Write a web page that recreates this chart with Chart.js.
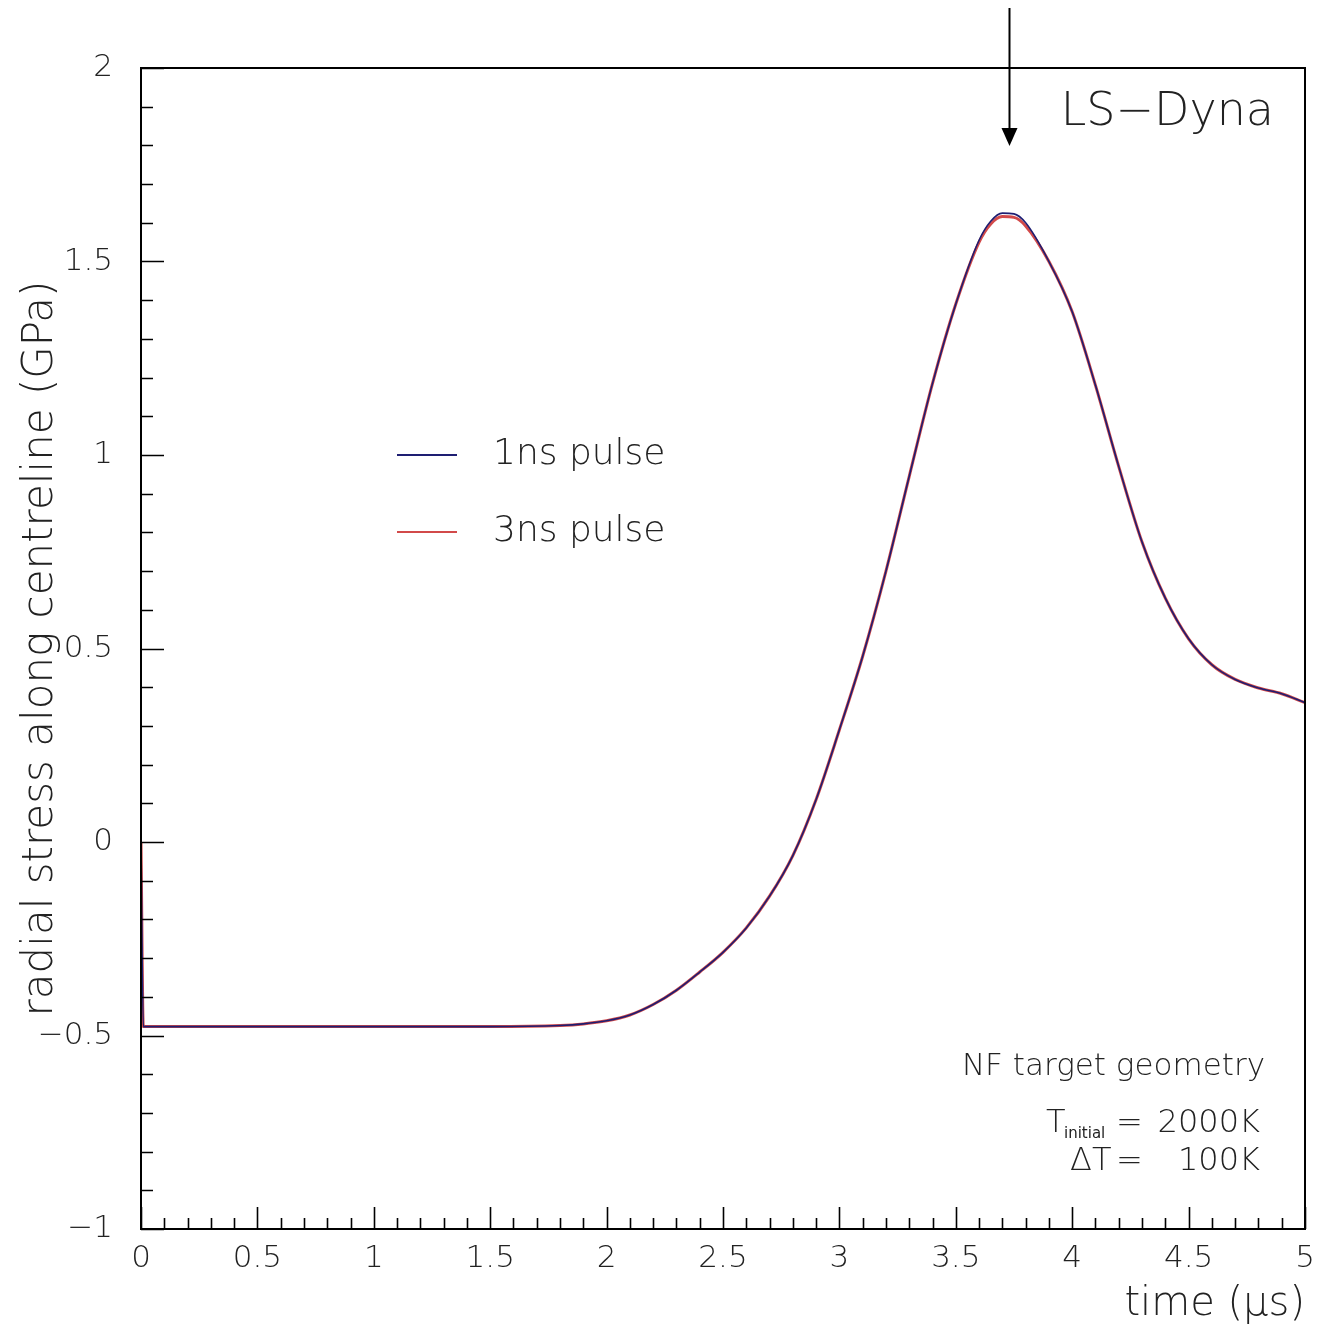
<!DOCTYPE html>
<html>
<head>
<meta charset="utf-8">
<script src="https://cdn.jsdelivr.net/npm/chart.js@4"></script>
<style>
    html, body { margin: 0; padding: 0; background: #fff; }
    #wrap { width: 1322px; height: 1327px; }
</style>
</head>
<body>
<div id="wrap"><canvas id="stressChart"></canvas></div>
<script>
// time axis (microseconds)
const timeUs = [0, 0.01, 0.5, 1.0, 1.5, 1.8, 1.9, 2.0, 2.1, 2.2, 2.3, 2.4, 2.5, 2.6, 2.7, 2.8, 2.9,
    3.0, 3.1, 3.2, 3.3, 3.4, 3.5, 3.6, 3.65, 3.7, 3.75, 3.8, 3.9, 4.0, 4.1, 4.2, 4.3, 4.4, 4.5,
    4.6, 4.7, 4.8, 4.9, 5.0];

// radial stress (GPa)
const stress1ns = [0, -0.477, -0.477, -0.477, -0.477, -0.474, -0.470, -0.462, -0.447, -0.420, -0.383,
    -0.336, -0.285, -0.222, -0.140, -0.035, 0.11, 0.29, 0.48, 0.70, 0.945, 1.185, 1.39, 1.555, 1.604,
    1.625, 1.623, 1.600, 1.50, 1.37, 1.18, 0.97, 0.775, 0.63, 0.525, 0.458, 0.42, 0.398, 0.383, 0.36];
const stress3ns = [0, -0.477, -0.477, -0.477, -0.477, -0.474, -0.470, -0.462, -0.447, -0.420, -0.383,
    -0.336, -0.285, -0.222, -0.140, -0.035, 0.11, 0.29, 0.48, 0.70, 0.945, 1.185, 1.39, 1.55, 1.597,
    1.616, 1.614, 1.592, 1.50, 1.37, 1.18, 0.97, 0.775, 0.63, 0.525, 0.458, 0.42, 0.398, 0.383, 0.36];

const seriesLabels = ['1ns pulse', '3ns pulse'];
const peakTime = 3.73;

const xTicks = [0, 0.5, 1, 1.5, 2, 2.5, 3, 3.5, 4, 4.5, 5];
const yTicks = [-1, -0.5, 0, 0.5, 1, 1.5, 2];

const FONT = '"DejaVu Sans", "Liberation Sans", sans-serif';
const minus = v => String(v).replace('-', '\u2212');

// PAW-style frame with inward tick marks
const frameTicks = {
    id: 'frameTicks',
    afterDraw(chart) {
        const { ctx, chartArea: a, scales: { x, y } } = chart;
        ctx.save();
        ctx.strokeStyle = '#000';
        ctx.lineWidth = 2;
        ctx.strokeRect(a.left, a.top, a.right - a.left, a.bottom - a.top);
        ctx.lineWidth = 1.6;
        ctx.beginPath();
        for (let i = 0; i <= 50; i++) {
            const px = Math.round(x.getPixelForValue(i / 10)) + 0.5;
            const len = i % 5 === 0 ? 22 : 11;
            ctx.moveTo(px, a.bottom);
            ctx.lineTo(px, a.bottom - len);
        }
        for (let i = -10; i <= 20; i++) {
            const py = Math.round(y.getPixelForValue(i / 10)) + 0.5;
            const len = i % 5 === 0 ? 23 : 12;
            ctx.moveTo(a.left, py);
            ctx.lineTo(a.left + len, py);
        }
        ctx.stroke();
        ctx.restore();
    }
};

// legend, labels and arrow over the plot
const notes = {
    id: 'notes',
    afterDraw(chart) {
        const { ctx, scales: { x } } = chart;
        ctx.save();
        ctx.fillStyle = '#222';
        ctx.textBaseline = 'middle';

        // legend
        const rows = [455, 532];
        chart.data.datasets.forEach((ds, i) => {
            ctx.strokeStyle = ds.borderColor;
            ctx.lineWidth = 2;
            ctx.beginPath();
            ctx.moveTo(397, rows[i]);
            ctx.lineTo(457, rows[i]);
            ctx.stroke();
            ctx.font = '200 36px ' + FONT;
            ctx.textAlign = 'left';
            ctx.fillText(ds.label, 493, rows[i]);
        });

        ctx.textAlign = 'right';
        ctx.font = '200 46px ' + FONT;
        ctx.fillText('LS\u2212Dyna', 1274, 113);

        ctx.font = '200 31px ' + FONT;
        ctx.fillText('NF target geometry', 1265, 1067);

        // initial temperature and step
        ctx.font = '200 32px ' + FONT;
        ctx.fillText('2000K', 1260, 1124);
        ctx.fillText('100K', 1260, 1162);
        ctx.textAlign = 'left';
        ctx.fillText('=', 1116, 1124);
        ctx.fillText('=', 1116, 1162);
        ctx.fillText('T', 1046, 1124);
        ctx.fillText('\u0394T', 1070, 1162);
        ctx.font = '15px ' + FONT;
        ctx.fillText('initial', 1064, 1134);

        // arrow pointing at the peak
        const ax = Math.round(x.getPixelForValue(peakTime)) + 0.5;
        ctx.strokeStyle = '#000';
        ctx.fillStyle = '#000';
        ctx.lineWidth = 2;
        ctx.beginPath();
        ctx.moveTo(ax, 8);
        ctx.lineTo(ax, 132);
        ctx.stroke();
        ctx.beginPath();
        ctx.moveTo(ax - 8, 128);
        ctx.lineTo(ax + 8, 128);
        ctx.lineTo(ax, 146);
        ctx.closePath();
        ctx.fill();
        ctx.restore();
    }
};

new Chart(document.getElementById('stressChart'), {
    type: 'line',
    data: {
        datasets: [{
            label: seriesLabels[0],
            data: timeUs.map((t, i) => ({ x: t, y: stress1ns[i] })),
            borderColor: '#1e1e72',
            borderWidth: 1.6,
            pointRadius: 0,
            cubicInterpolationMode: 'monotone'
        }, {
            label: seriesLabels[1],
            data: timeUs.map((t, i) => ({ x: t, y: stress3ns[i] })),
            borderColor: '#d24a4a',
            borderWidth: 3,
            pointRadius: 0,
            cubicInterpolationMode: 'monotone'
        }]
    },
    options: {
        responsive: true,
        maintainAspectRatio: false,
        animation: false,
        layout: { padding: { top: 68, right: 17, left: 0, bottom: 0 } },
        plugins: {
            legend: { display: false },
            tooltip: { enabled: false }
        },
        scales: {
            x: {
                type: 'linear',
                min: 0,
                max: 5,
                afterBuildTicks: s => { s.ticks = xTicks.map(v => ({ value: v })); },
                afterFit: s => {
                    s.height = 98;
                    s.paddingLeft = 0;
                    s.paddingRight = 0;
                },
                grid: { display: false, drawTicks: false },
                border: { display: false },
                ticks: {
                    padding: 11,
                    maxRotation: 0,
                    color: '#222',
                    font: { family: FONT, size: 31, weight: 200 },
                    callback: v => minus(v)
                },
                title: {
                    display: true,
                    text: 'time (\u03bcs)',
                    align: 'end',
                    color: '#222',
                    padding: { top: 0, bottom: -2 },
                    font: { family: FONT, size: 40, weight: 200 }
                }
            },
            y: {
                min: -1,
                max: 2,
                afterBuildTicks: s => { s.ticks = yTicks.map(v => ({ value: v })); },
                afterFit: s => {
                    s.width = 141;
                    s.paddingTop = 0;
                    s.paddingBottom = 0;
                },
                grid: { display: false, drawTicks: false },
                border: { display: false },
                ticks: {
                    padding: 28,
                    color: '#222',
                    font: { family: FONT, size: 31, weight: 200 },
                    callback: v => minus(v)
                },
                title: {
                    display: true,
                    text: 'radial stress along centreline (GPa)',
                    color: '#222',
                    padding: { top: 16, bottom: 0 },
                    font: { family: FONT, size: 42, weight: 200 }
                }
            }
        }
    },
    plugins: [frameTicks, notes]
});
</script>
</body>
</html>
